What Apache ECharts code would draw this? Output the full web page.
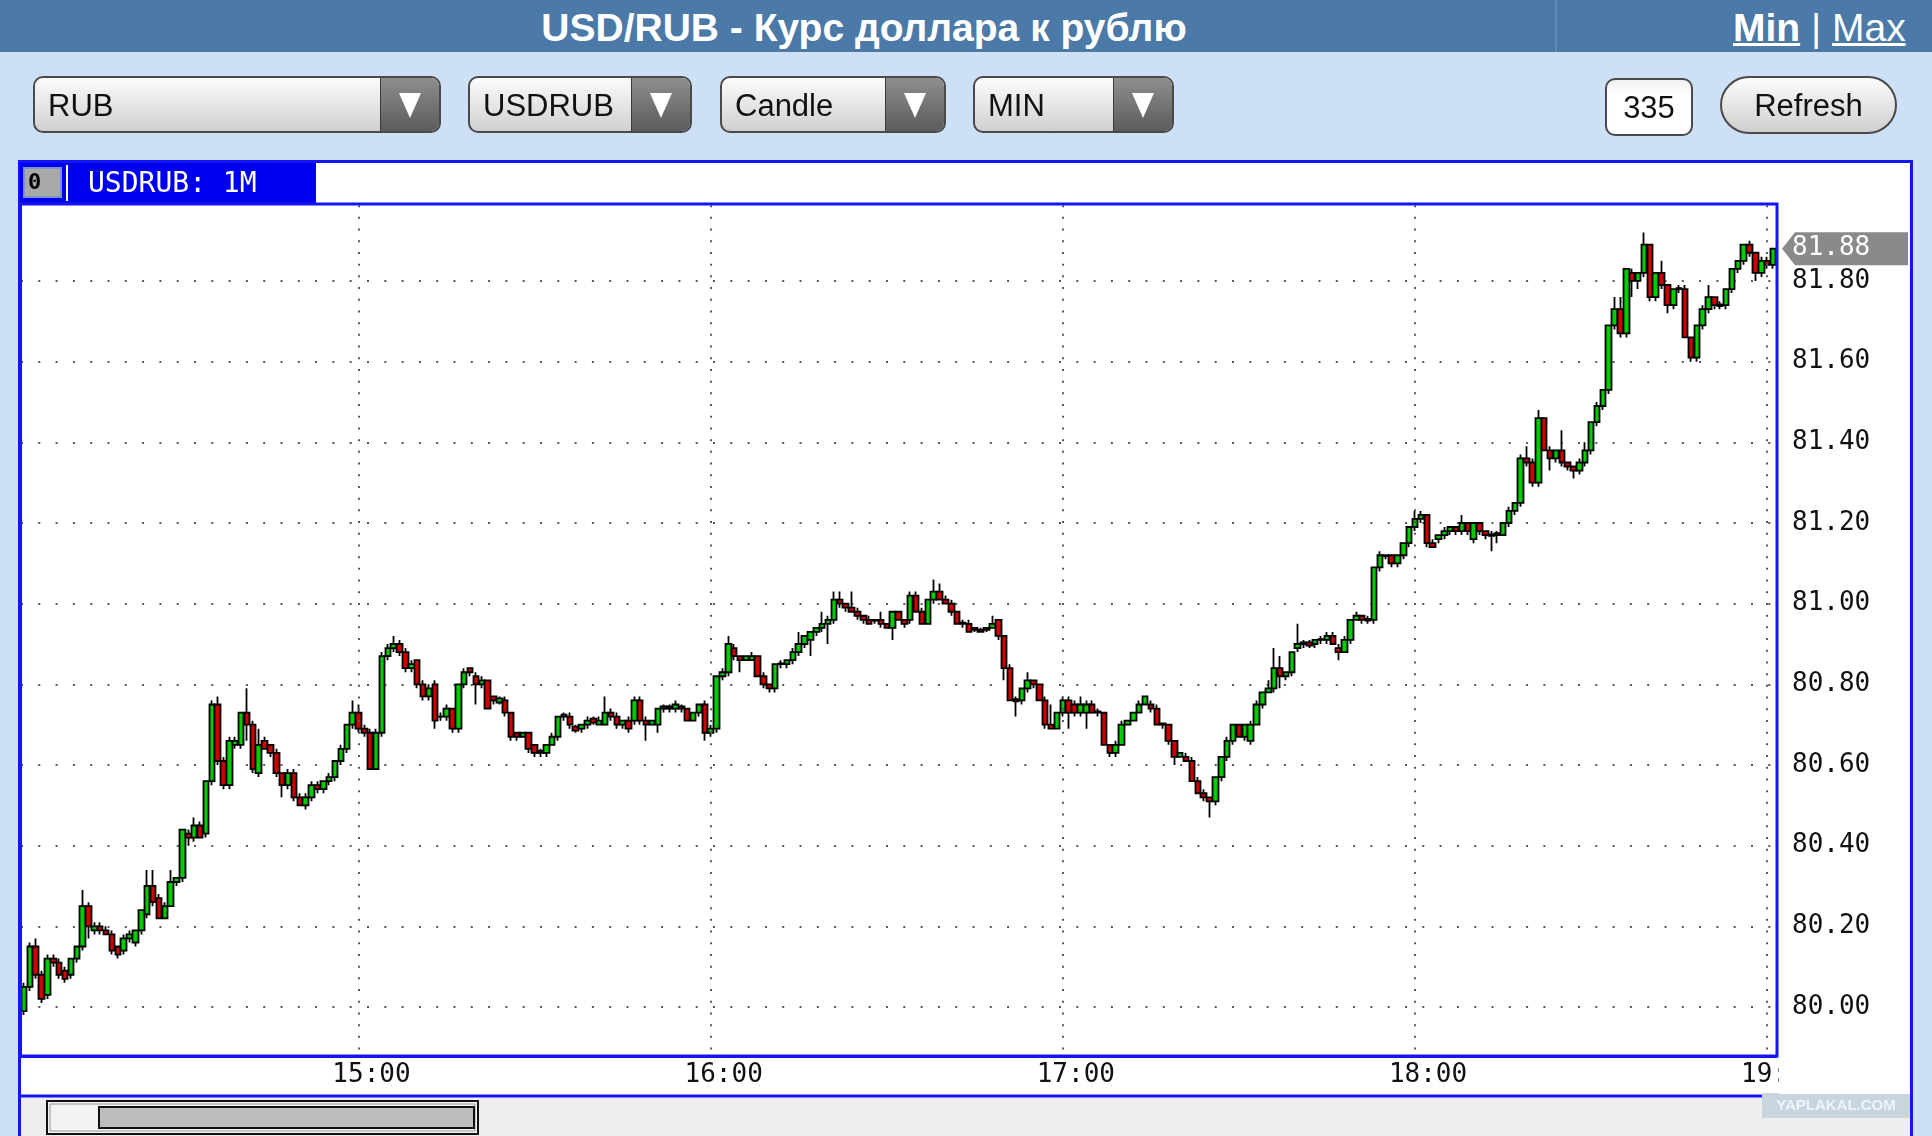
<!DOCTYPE html>
<html><head><meta charset="utf-8">
<script src="https://cdn.jsdelivr.net/npm/echarts@6/dist/echarts.min.js"></script>
<style>
html,body{margin:0;padding:0;width:1932px;height:1136px;overflow:hidden;background:#cde0f6;font-family:'Liberation Sans',Arial,Helvetica,sans-serif;}
#chart{position:absolute;left:0;top:0;width:1932px;height:1136px;z-index:0;}
#hdr{position:absolute;left:0;top:0;width:1932px;height:52px;background:#4b79a8;z-index:2;}
#hdr .sep{position:absolute;left:1555px;top:0;width:2px;height:52px;background:#5f8cb9;}
#title{position:absolute;left:0;top:0;width:1728px;height:52px;line-height:56px;text-align:center;color:#fff;font-weight:bold;font-size:39px;white-space:nowrap;}
#mm{position:absolute;left:1733px;top:0;height:52px;line-height:56px;color:#fff;font-size:39px;white-space:nowrap;}
#mm u{text-decoration:underline;}
.dd{position:absolute;top:76px;height:57px;box-sizing:border-box;border:2px solid #4a4a4a;border-radius:10px;background:linear-gradient(#fcfcfc,#d0d0d0);font-size:31px;line-height:55px;padding-left:13px;color:#111;overflow:hidden;z-index:2;}
.dd .ar{position:absolute;right:0;top:0;bottom:0;width:58px;background:linear-gradient(#8e8e8e,#5c5c5c);border-left:1px solid #3a3a3a;}
.dd .ar:after{content:"";position:absolute;left:18px;top:15px;width:0;height:0;border-left:11px solid transparent;border-right:11px solid transparent;border-top:25px solid #fff;}
.box{position:absolute;top:78px;height:58px;box-sizing:border-box;border:2px solid #4a4a4a;font-size:31px;line-height:56px;text-align:center;color:#111;z-index:2;}
</style></head>
<body>
<div id="chart"></div>
<div id="hdr"><div id="title">USD/RUB - Курс доллара к рублю</div><div class="sep"></div>
<div id="mm"><u style="font-weight:bold">Min</u> | <u>Max</u></div></div>
<div class="dd" style="left:33px;width:408px">RUB<span class="ar"></span></div>
<div class="dd" style="left:468px;width:224px">USDRUB<span class="ar"></span></div>
<div class="dd" style="left:720px;width:226px">Candle<span class="ar"></span></div>
<div class="dd" style="left:973px;width:201px">MIN<span class="ar"></span></div>
<div class="box" style="left:1605px;width:88px;border-radius:10px;background:linear-gradient(#f0f0f0,#ffffff 30%);">335</div>
<div class="box" style="left:1720px;top:76px;width:177px;border-radius:29px;background:linear-gradient(#fcfcfc,#cfcfcf);">Refresh</div>
<script>
// ---- data: [open, close, low, high] per 1-minute candle ----
const startHour = 14, startMinute = 3;
const h14 = [
[79.99,80.05,79.98,80.06],[80.05,80.15,80.04,80.16],[80.15,80.08,80.07,80.17],[80.08,80.02,80.01,80.09],
[80.03,80.12,80.02,80.13],[80.12,80.11,80.10,80.13],[80.11,80.08,80.07,80.12],[80.09,80.07,80.06,80.10],
[80.08,80.12,80.07,80.12],[80.12,80.15,80.11,80.15],[80.15,80.25,80.14,80.29],[80.25,80.20,80.17,80.26],
[80.19,80.20,80.18,80.21],[80.20,80.19,80.18,80.21],[80.19,80.18,80.18,80.20],[80.18,80.14,80.13,80.19],
[80.15,80.13,80.12,80.15],[80.14,80.17,80.13,80.18],[80.17,80.18,80.16,80.19],[80.16,80.19,80.15,80.19],
[80.19,80.24,80.18,80.24],[80.23,80.30,80.22,80.34],[80.30,80.26,80.25,80.34],[80.27,80.22,80.22,80.28],
[80.22,80.25,80.22,80.26],[80.25,80.31,80.25,80.34],[80.31,80.32,80.30,80.32],[80.32,80.44,80.31,80.44],
[80.43,80.42,80.40,80.44],[80.42,80.45,80.41,80.47],[80.45,80.42,80.42,80.46],[80.43,80.56,80.42,80.56],
[80.56,80.75,80.55,80.76],[80.75,80.61,80.60,80.77],[80.61,80.55,80.54,80.62],[80.55,80.66,80.54,80.67],
[80.65,80.66,80.64,80.67],[80.65,80.73,80.64,80.73],[80.73,80.70,80.66,80.79],[80.70,80.59,80.58,80.71],
[80.58,80.65,80.57,80.69],[80.66,80.64,80.64,80.67],[80.65,80.63,80.62,80.65],[80.63,80.58,80.57,80.64],
[80.58,80.55,80.52,80.58],[80.55,80.58,80.54,80.59],[80.58,80.52,80.51,80.59],[80.52,80.50,80.50,80.53],
[80.50,80.52,80.49,80.53],[80.52,80.55,80.51,80.56],[80.55,80.54,80.53,80.56],[80.54,80.56,80.53,80.56],
[80.56,80.57,80.55,80.58],[80.57,80.61,80.56,80.61],[80.61,80.64,80.60,80.65],[80.64,80.70,80.63,80.70],
[80.70,80.73,80.69,80.76]];
const h15 = [
[80.73,80.69,80.68,80.75],[80.69,80.68,80.67,80.70],[80.68,80.59,80.59,80.69],[80.59,80.68,80.59,80.69],
[80.68,80.87,80.67,80.88],[80.87,80.89,80.86,80.90],[80.89,80.90,80.88,80.92],[80.90,80.88,80.87,80.91],
[80.88,80.84,80.83,80.89],[80.84,80.85,80.83,80.86],[80.86,80.80,80.79,80.86],[80.80,80.77,80.76,80.81],
[80.77,80.79,80.76,80.80],[80.80,80.71,80.69,80.81],[80.72,80.72,80.71,80.73],[80.72,80.74,80.71,80.75],
[80.74,80.69,80.68,80.74],[80.69,80.80,80.68,80.80],[80.80,80.83,80.79,80.84],[80.84,80.83,80.82,80.84],
[80.82,80.80,80.75,80.83],[80.80,80.81,80.79,80.82],[80.81,80.74,80.74,80.81],[80.77,80.76,80.75,80.77],
[80.755,80.765,80.75,80.77],[80.76,80.73,80.72,80.77],[80.73,80.67,80.66,80.73],[80.68,80.67,80.66,80.68],
[80.67,80.68,80.67,80.68],[80.68,80.64,80.63,80.68],[80.65,80.63,80.62,80.65],[80.635,80.63,80.62,80.64],
[80.63,80.65,80.62,80.65],[80.65,80.67,80.65,80.68],[80.67,80.72,80.66,80.72],[80.72,80.725,80.71,80.73],
[80.72,80.70,80.69,80.73],[80.695,80.685,80.68,80.70],[80.69,80.70,80.68,80.70],[80.70,80.71,80.69,80.72],
[80.715,80.705,80.70,80.72],[80.70,80.71,80.70,80.72],[80.70,80.73,80.70,80.77],[80.73,80.72,80.71,80.74],
[80.72,80.70,80.69,80.73],[80.70,80.71,80.69,80.71],[80.71,80.69,80.68,80.72],[80.71,80.76,80.70,80.77],
[80.76,80.71,80.70,80.77],[80.71,80.70,80.66,80.72],[80.70,80.71,80.70,80.71],[80.70,80.74,80.68,80.74],
[80.74,80.745,80.73,80.75],[80.745,80.74,80.73,80.75],[80.74,80.75,80.73,80.76],[80.745,80.74,80.73,80.75],
[80.74,80.71,80.71,80.74],[80.71,80.73,80.71,80.73],[80.73,80.75,80.72,80.75],[80.75,80.68,80.66,80.76]];
const h16 = [
[80.68,80.69,80.67,80.70],[80.69,80.82,80.68,80.82],[80.82,80.83,80.81,80.84],[80.83,80.90,80.82,80.92],
[80.89,80.87,80.86,80.90],[80.87,80.86,80.83,80.87],[80.86,80.87,80.86,80.87],[80.86,80.87,80.86,80.88],
[80.87,80.82,80.82,80.87],[80.82,80.80,80.79,80.83],[80.80,80.79,80.78,80.80],[80.79,80.85,80.78,80.85],
[80.85,80.852,80.84,80.86],[80.85,80.86,80.84,80.86],[80.86,80.88,80.85,80.89],[80.88,80.90,80.87,80.93],
[80.90,80.92,80.89,80.92],[80.91,80.93,80.87,80.93],[80.93,80.94,80.92,80.94],[80.94,80.95,80.93,80.98],
[80.95,80.96,80.90,80.97],[80.96,81.01,80.95,81.03],[81.01,81.00,80.99,81.03],[81.00,80.99,80.98,81.00],
[80.99,80.98,80.98,81.03],[80.98,80.97,80.96,80.99],[80.97,80.96,80.95,80.97],[80.96,80.95,80.95,80.97],
[80.96,80.958,80.95,80.96],[80.96,80.95,80.94,80.98],[80.95,80.94,80.94,80.95],[80.94,80.98,80.91,80.98],
[80.98,80.96,80.96,80.98],[80.96,80.95,80.94,80.96],[80.96,81.02,80.95,81.03],[81.02,80.98,80.98,81.03],
[80.98,80.95,80.95,80.99],[80.95,81.01,80.95,81.01],[81.01,81.03,81.00,81.06],[81.03,81.01,81.01,81.05],
[81.01,81.00,81.00,81.02],[81.00,80.98,80.97,81.01],[80.98,80.95,80.95,80.98],[80.953,80.95,80.94,80.96],
[80.95,80.93,80.93,80.96],[80.94,80.935,80.93,80.94],[80.935,80.93,80.93,80.94],[80.935,80.94,80.93,80.94],
[80.94,80.95,80.94,80.97],[80.96,80.92,80.91,80.96],[80.92,80.84,80.81,80.92],[80.84,80.76,80.76,80.85],
[80.763,80.758,80.72,80.77],[80.76,80.79,80.75,80.79],[80.79,80.81,80.78,80.83],[80.81,80.80,80.79,80.81],
[80.80,80.76,80.76,80.80],[80.76,80.70,80.69,80.77],[80.70,80.69,80.69,80.75],[80.69,80.73,80.69,80.73]];
const h17 = [
[80.73,80.76,80.72,80.77],[80.76,80.73,80.69,80.77],[80.75,80.73,80.72,80.76],[80.73,80.75,80.72,80.77],
[80.73,80.75,80.69,80.76],[80.75,80.73,80.73,80.76],[80.733,80.73,80.72,80.74],[80.73,80.65,80.65,80.73],
[80.65,80.63,80.62,80.65],[80.63,80.65,80.62,80.66],[80.65,80.70,80.65,80.71],[80.70,80.71,80.70,80.71],
[80.71,80.73,80.71,80.73],[80.73,80.75,80.73,80.76],[80.75,80.77,80.75,80.77],[80.75,80.74,80.73,80.76],
[80.74,80.70,80.70,80.75],[80.703,80.70,80.69,80.70],[80.70,80.66,80.65,80.70],[80.66,80.62,80.60,80.66],
[80.62,80.63,80.62,80.63],[80.62,80.61,80.61,80.63],[80.61,80.56,80.56,80.62],[80.56,80.53,80.53,80.57],
[80.53,80.52,80.51,80.54],[80.52,80.51,80.47,80.52],[80.51,80.57,80.50,80.57],[80.57,80.62,80.56,80.62],
[80.62,80.66,80.61,80.67],[80.66,80.70,80.65,80.70],[80.70,80.67,80.67,80.70],[80.67,80.70,80.66,80.70],
[80.66,80.70,80.65,80.71],[80.70,80.75,80.70,80.76],[80.75,80.78,80.74,80.78],[80.78,80.79,80.78,80.81],
[80.79,80.84,80.78,80.89],[80.84,80.82,80.79,80.87],[80.82,80.83,80.81,80.83],[80.83,80.88,80.82,80.88],
[80.89,80.90,80.88,80.95],[80.90,80.904,80.89,80.91],[80.904,80.896,80.89,80.91],[80.90,80.91,80.89,80.91],
[80.91,80.912,80.90,80.92],[80.91,80.92,80.90,80.93],[80.92,80.90,80.90,80.93],[80.89,80.88,80.86,80.90],
[80.88,80.91,80.88,80.92],[80.91,80.96,80.90,80.96],[80.96,80.97,80.96,80.98],[80.97,80.96,80.95,80.97],
[80.962,80.958,80.95,80.97],[80.96,81.09,80.95,81.09],[81.09,81.12,81.08,81.13],[81.12,81.118,81.11,81.12],
[81.12,81.10,81.09,81.12],[81.10,81.12,81.09,81.12],[81.12,81.15,81.11,81.15],[81.15,81.19,81.14,81.19]];
const h18 = [
[81.19,81.21,81.18,81.23],[81.21,81.22,81.20,81.23],[81.22,81.15,81.14,81.22],[81.15,81.14,81.14,81.16],
[81.16,81.17,81.15,81.17],[81.17,81.18,81.16,81.19],[81.18,81.19,81.17,81.19],[81.19,81.18,81.17,81.19],
[81.18,81.20,81.17,81.22],[81.20,81.18,81.17,81.20],[81.16,81.20,81.15,81.20],[81.20,81.18,81.17,81.20],
[81.18,81.17,81.16,81.18],[81.172,81.168,81.13,81.18],[81.17,81.175,81.15,81.18],[81.17,81.20,81.17,81.20],
[81.20,81.23,81.19,81.24],[81.23,81.25,81.22,81.25],[81.25,81.36,81.24,81.37],[81.36,81.35,81.34,81.39],
[81.35,81.30,81.29,81.36],[81.30,81.46,81.29,81.48],[81.46,81.38,81.38,81.46],[81.38,81.36,81.33,81.39],
[81.36,81.38,81.35,81.38],[81.38,81.35,81.34,81.43],[81.35,81.34,81.33,81.35],[81.34,81.33,81.31,81.34],
[81.33,81.35,81.32,81.36],[81.35,81.38,81.34,81.40],[81.38,81.45,81.37,81.45],[81.45,81.49,81.44,81.50],
[81.49,81.53,81.48,81.53],[81.53,81.69,81.52,81.69],[81.69,81.73,81.68,81.76],[81.73,81.67,81.66,81.76],
[81.67,81.83,81.66,81.83],[81.82,81.80,81.76,81.83],[81.80,81.82,81.78,81.82],[81.82,81.89,81.81,81.92],
[81.89,81.76,81.75,81.89],[81.76,81.82,81.75,81.82],[81.82,81.79,81.78,81.85],[81.79,81.74,81.72,81.79],
[81.74,81.78,81.73,81.78],[81.78,81.782,81.77,81.79],[81.78,81.66,81.66,81.79],[81.66,81.61,81.60,81.66],
[81.61,81.69,81.60,81.69],[81.69,81.73,81.68,81.74],[81.73,81.76,81.72,81.79],[81.76,81.74,81.73,81.76],
[81.742,81.738,81.73,81.75],[81.74,81.78,81.73,81.78],[81.78,81.83,81.77,81.83],[81.83,81.85,81.82,81.85],
[81.85,81.89,81.84,81.89],[81.89,81.87,81.86,81.90],[81.87,81.82,81.80,81.87],[81.82,81.85,81.81,81.86]];
const h19 = [[81.85,81.84,81.83,81.86],[81.84,81.88,81.83,81.88]];
const candles = [].concat(h14, h15, h16, h17, h18, h19);
const times = candles.map((_, i) => { const t = startHour * 60 + startMinute + i; return Math.floor(t / 60) + ':' + String(t % 60).padStart(2, '0'); });
const hourTicks = ['15:00', '16:00', '17:00', '18:00', '19:00'];
const yMin = 79.8, yMax = 82.0, yStep = 0.2;
const plotTopValue = 81.988, plotBottomValue = 79.878;
const lastPrice = 81.88;
const symbolName = 'USDRUB: 1M';

const BLUE = '#1414f5';
const MONO = '"DejaVu Sans Mono", "Liberation Mono", monospace';
const chart = echarts.init(document.getElementById('chart'), null, {renderer: 'canvas'});
chart.setOption({
  animation: false,
  backgroundColor: 'transparent',
  grid: {left: 21, right: 156, top: 200.3, bottom: 48.3},
  xAxis: {
    type: 'category', data: times, boundaryGap: true, offset: -31.7,
    axisLine: {show: true, lineStyle: {color: BLUE, width: 3}},
    axisTick: {show: false},
    splitLine: {show: false},
    axisLabel: {
      interval: (i, v) => hourTicks.includes(v),
      color: '#111', fontFamily: MONO, fontSize: 26, margin: 6,
      padding: [0, 0, 0, 26]
    }
  },
  yAxis: {
    type: 'value', position: 'right', min: yMin, max: yMax, interval: yStep, scale: true,
    axisLine: {show: false}, axisTick: {show: false},
    axisLabel: {showMinLabel: false, showMaxLabel: false, margin: 16, color: '#111', fontFamily: MONO, fontSize: 26,
      formatter: v => v.toFixed(2)},
    splitLine: {show: true, showMinLine: false, showMaxLine: false, lineStyle: {color: '#5a5a5a', width: 2, type: [2, 15.3]}}
  },
  series: [{
    type: 'candlestick', data: candles, barWidth: 6,
    itemStyle: {color: '#00cc00', color0: '#d00000', borderColor: '#000', borderColor0: '#000', borderColorDoji: '#000', borderWidth: 1.8},
    markLine: {
      silent: true, symbol: ['none', 'none'], label: {show: false},
      lineStyle: {color: '#5a5a5a', width: 2, type: [2, 9.7]},
      data: hourTicks.map(t => [{coord: [t, plotTopValue]}, {coord: [t, plotBottomValue]}])
    }
  }],
  graphic: {elements: [
    {id: 'bg', type: 'rect', z: -100, shape: {x: 19.5, y: 161.5, width: 1892, height: 1000}, style: {fill: '#fff', stroke: BLUE, lineWidth: 3}},
    {id: 'gray', type: 'rect', z: -90, shape: {x: 21, y: 1097, width: 1889, height: 40}, style: {fill: '#eeeeee'}},
    {id: 'tab', type: 'rect', z: 10, shape: {x: 20, y: 163, width: 296, height: 41}, style: {fill: '#0000f0'}},
    {id: 'icon', type: 'rect', z: 11, shape: {x: 24, y: 168, width: 37, height: 29}, style: {fill: '#a9a9a9', stroke: '#7b93c8', lineWidth: 2}},
    {id: 'iconTxt', type: 'text', z: 12, style: {text: '0', x: 28, y: 183, verticalAlign: 'middle', fill: '#000', font: 'bold 22px "DejaVu Sans Mono"'}},
    {id: 'iconSep', type: 'line', z: 12, shape: {x1: 67, y1: 165, x2: 67, y2: 201}, style: {stroke: '#fff', lineWidth: 2}},
    {id: 'tabTxt', type: 'text', z: 12, style: {text: symbolName, x: 88, y: 185, verticalAlign: 'middle', fill: '#fff', font: '28px "DejaVu Sans Mono"'}},
    {id: 'plotBorder', type: 'rect', z: 20, shape: {x: 20.5, y: 204, width: 1756.5, height: 852}, style: {fill: 'none', stroke: BLUE, lineWidth: 3}},
    {id: 'bandLine', type: 'line', z: 20, shape: {x1: 19, y1: 1096, x2: 1912, y2: 1096}, style: {stroke: BLUE, lineWidth: 3}},
    {id: 'clip19', type: 'rect', z: 30, shape: {x: 1779, y: 1058, width: 131, height: 36}, style: {fill: '#fff'}},
    {id: 'sbOuter', type: 'rect', z: 20, shape: {x: 47, y: 1101, width: 431, height: 33}, style: {fill: '#f3f3f3', stroke: '#111', lineWidth: 2}},
    {id: 'sbInner2', type: 'rect', z: 21, shape: {x: 50, y: 1104, width: 425, height: 27}, style: {fill: 'none', stroke: '#999', lineWidth: 1}},
    {id: 'sbThumb', type: 'rect', z: 22, shape: {x: 99, y: 1107, width: 375, height: 21}, style: {fill: '#bdbdbd', stroke: '#111', lineWidth: 2}},
    {id: 'wm', type: 'rect', z: 25, shape: {x: 1762, y: 1093, width: 148, height: 25}, style: {fill: '#c8d4de'}},
    {id: 'wmTxt', type: 'text', z: 26, style: {text: 'YAPLAKAL.COM', x: 1836, y: 1106, align: 'center', verticalAlign: 'middle', fill: '#eef4f9', font: 'bold 15px "Liberation Sans"'}}
  ]}
});
// last-price tag placed through the y-axis scale
const yTag = chart.convertToPixel({yAxisIndex: 0}, lastPrice);
chart.setOption({graphic: {elements: [
  {id: 'tag', type: 'polygon', z: 40, shape: {points: [[1782, yTag], [1795, yTag - 16.5], [1908, yTag - 16.5], [1908, yTag + 16.5], [1795, yTag + 16.5]]}, style: {fill: '#8a8a8a'}},
  {id: 'tagTxt', type: 'text', z: 41, style: {text: lastPrice.toFixed(2), x: 1792, y: yTag, verticalAlign: 'middle', fill: '#fff', font: '26px "DejaVu Sans Mono"'}}
]}});
</script>
</body></html>
